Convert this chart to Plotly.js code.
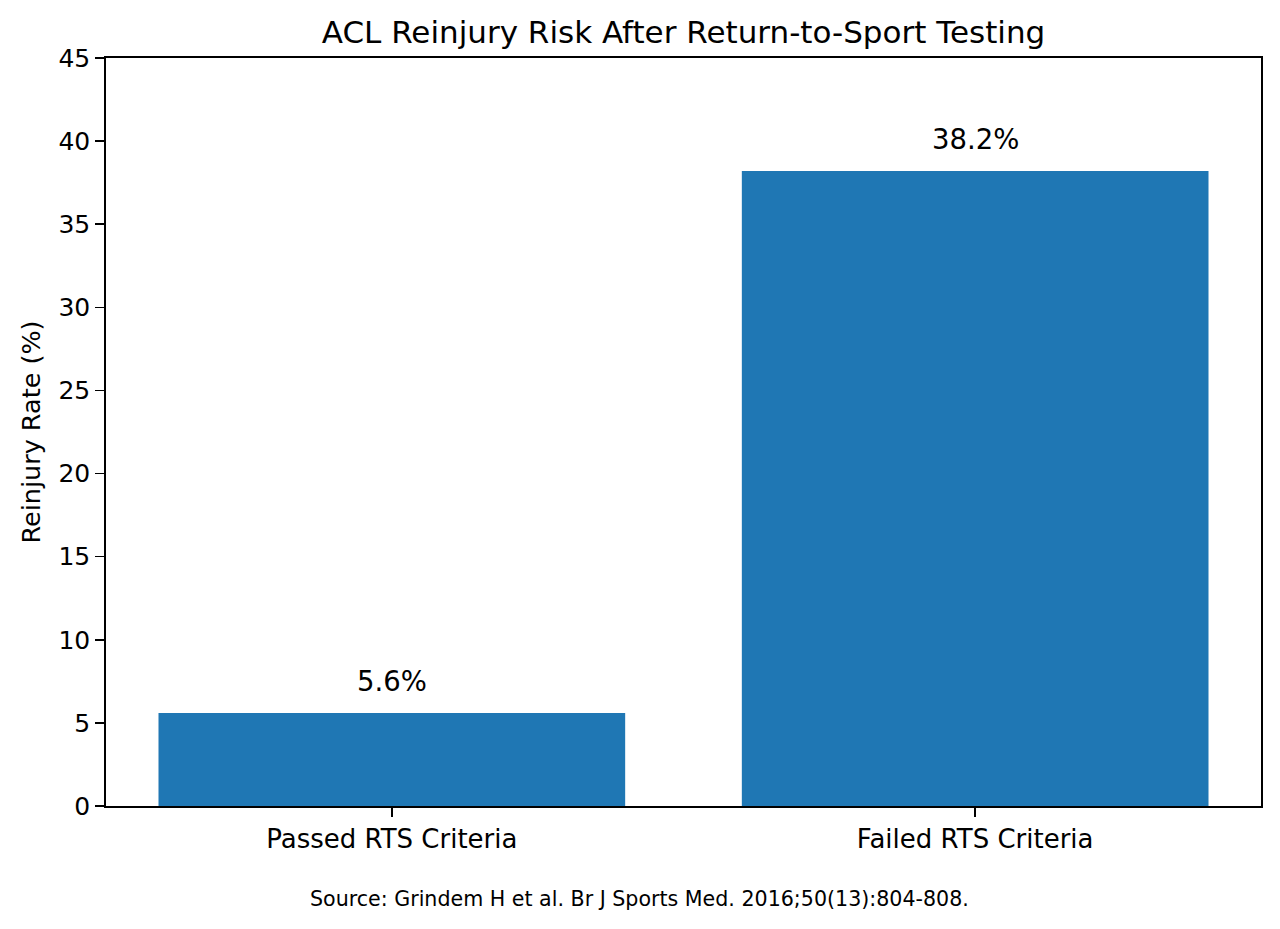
<!DOCTYPE html>
<html>
<head>
<meta charset="utf-8">
<script src="https://cdn.plot.ly/plotly-3.0.1.min.js"></script>
<style>
  html, body { margin: 0; padding: 0; background: #fff; }
  #chart { width: 1280px; height: 929px; }
</style>
</head>
<body>
<div id="chart"></div>
<script>
// Дані графіка
const categories = ["Passed RTS Criteria", "Failed RTS Criteria"];
const reinjuryRates = [5.6, 38.2];
const chartTitle = "ACL Reinjury Risk After Return-to-Sport Testing";
const yTitle = "Reinjury Rate (%)";
const sourceNote = "Source: Grindem H et al. Br J Sports Med. 2016;50(13):804-808.";

const FONT = "DejaVu Sans, sans-serif";

// Стовпчики
const trace = {
    type: "bar",
    x: categories,
    y: reinjuryRates,
    width: 0.8,
    marker: { color: "#1f77b4", line: { width: 0 } },
    hoverinfo: "skip",
};

// Підписи над стовпчиками
const labels = categories.map((c, i) => ({
    x: c,
    y: reinjuryRates[i],
    xref: "x",
    yref: "y",
    text: reinjuryRates[i].toFixed(1) + "%",
    showarrow: false,
    yanchor: "bottom",
    yshift: 14,
    font: { family: FONT, size: 27.5, color: "#000" },
}));

// Джерело внизу
labels.push({
    x: 0.4623,
    y: -0.124,
    xref: "paper",
    yref: "paper",
    text: sourceNote,
    showarrow: false,
    xanchor: "center",
    yanchor: "middle",
    font: { family: FONT, size: 20.6, color: "#000" },
});

const axisCommon = {
    showline: true,
    mirror: true,
    linecolor: "#000",
    linewidth: 1.8,
    ticks: "outside",
    ticklen: 9,
    tickwidth: 1.5,
    tickcolor: "#000",
    showgrid: false,
    zeroline: false,
};

const layout = {
    width: 1280,
    height: 929,
    margin: { l: 106, r: 19, t: 58, b: 123 },
    paper_bgcolor: "#fff",
    plot_bgcolor: "#fff",
    showlegend: false,
    title: {
        text: chartTitle,
        font: { family: FONT, size: 31, color: "#000" },
        x: 0.5,
        xanchor: "center",
        xref: "paper",
        y: 1 - 32 / 929,
        yref: "container",
        yanchor: "middle",
    },
    xaxis: Object.assign({}, axisCommon, {
        type: "category",
        range: [-0.49, 1.49],
        tickfont: { family: FONT, size: 26, color: "#000" },
    }),
    yaxis: Object.assign({}, axisCommon, {
        range: [0, 45],
        dtick: 5,
        tick0: 0,
        tickfont: { family: FONT, size: 25, color: "#000" },
        title: {
            text: yTitle,
            font: { family: FONT, size: 25.5, color: "#000" },
            standoff: 10,
        },
    }),
    annotations: labels,
};

Plotly.newPlot("chart", [trace], layout, { staticPlot: true, displayModeBar: false });
</script>
</body>
</html>
